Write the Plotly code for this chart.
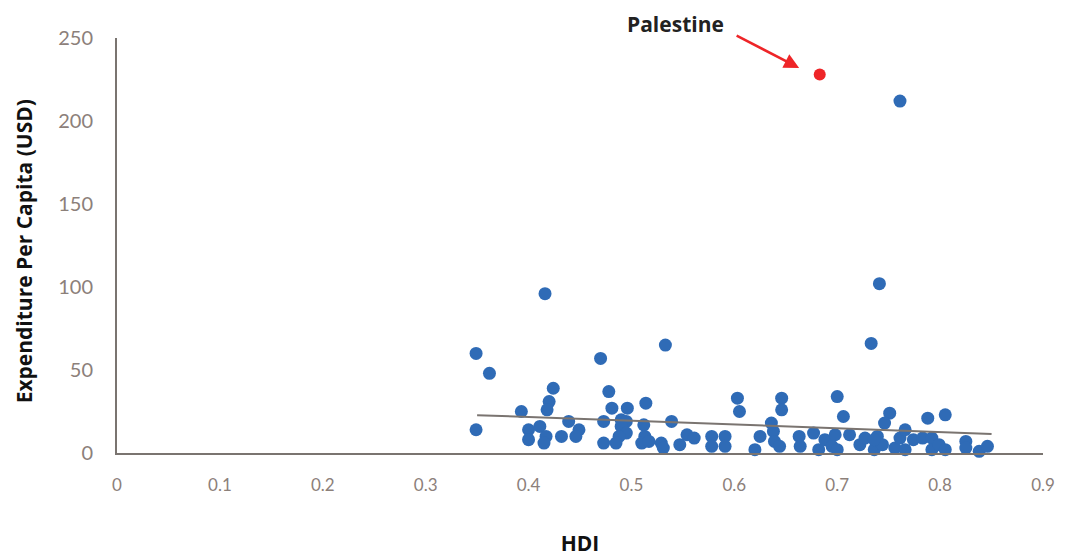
import plotly.graph_objects as go

# HDI and expenditure per capita (USD) for each country (blue points)
hdi = [
    0.761, 0.741, 0.416, 0.733, 0.533, 0.349, 0.470, 0.362,
    0.424, 0.420, 0.418, 0.393, 0.400, 0.400, 0.411, 0.417, 0.415, 0.432, 0.439, 0.449, 0.446,
    0.349, 0.478, 0.481, 0.496, 0.514, 0.473, 0.490, 0.495, 0.490, 0.495, 0.488, 0.473, 0.485,
    0.512, 0.513, 0.510, 0.517, 0.529, 0.531, 0.539, 0.547, 0.554,
    0.603, 0.605, 0.646, 0.646, 0.700, 0.706, 0.751, 0.746, 0.788, 0.805, 0.636, 0.638,
    0.561, 0.578, 0.578, 0.591, 0.591, 0.620, 0.625, 0.639, 0.644, 0.663, 0.664, 0.677,
    0.682, 0.688, 0.695, 0.698, 0.700, 0.712, 0.722, 0.727, 0.736, 0.739, 0.744, 0.736,
    0.756, 0.761, 0.766, 0.766, 0.774, 0.783, 0.792, 0.792, 0.799, 0.805, 0.825, 0.825,
    0.838, 0.846,
]
expenditure = [
    212, 102, 96, 66, 65, 60, 57, 48,
    39, 31, 26, 25, 14, 8, 16, 10, 6, 10, 19, 14, 10,
    14, 37, 27, 27, 30, 19, 20, 19, 16, 12, 10, 6, 6,
    17, 10, 6, 7, 6, 3, 19, 5, 11,
    33, 25, 33, 26, 34, 22, 24, 18, 21, 23, 18, 13,
    9, 10, 4, 10, 4, 2, 10, 7, 4, 10, 4, 12,
    2, 8, 4, 11, 2, 11, 5, 9, 2, 10, 5, 8,
    3, 9, 14, 2, 8, 9, 9, 2, 5, 2, 7, 3,
    1, 4,
]

# Highlighted point
palestine_hdi = [0.683]
palestine_exp = [228]

# Linear trend line endpoints
trend_x = [0.35, 0.85]
trend_y = [22.8, 11.5]

x_ticks = [0, 0.1, 0.2, 0.3, 0.4, 0.5, 0.6, 0.7, 0.8, 0.9]
x_tick_text = ["0", "0.1", "0.2", "0.3", "0.4", "0.5", "0.6", "0.7", "0.8", "0.9"]
y_ticks = [0, 50, 100, 150, 200, 250]

fig = go.Figure()
fig.add_trace(go.Scatter(
    x=hdi, y=expenditure, mode="markers",
    marker=dict(size=13, color="#2f6bb6"), showlegend=False, cliponaxis=False,
))
fig.add_trace(go.Scatter(
    x=trend_x, y=trend_y, mode="lines",
    line=dict(color="#7a7470", width=2), showlegend=False,
))
fig.add_trace(go.Scatter(
    x=palestine_hdi, y=palestine_exp, mode="markers",
    marker=dict(size=12, color="#ee2528"), showlegend=False, cliponaxis=False,
))

# Arrow pointing at Palestine
fig.add_annotation(
    x=0.663, y=232, xref="x", yref="y", text="",
    showarrow=True, ax=-64, ay=-33, axref="pixel", ayref="pixel",
    arrowhead=2, arrowsize=1.2, arrowwidth=2.5, arrowcolor="#ee2528",
)
fig.add_annotation(
    x=0.6026, y=1.07, xref="paper", yref="paper", text="<b>Palestine</b>",
    showarrow=False, xanchor="center", yanchor="top", borderpad=0,
    font=dict(family="Open Sans", size=21, color="#222222"),
)
# Y-axis title
fig.add_annotation(
    x=-0.1172, y=0.487, xref="paper", yref="paper",
    text="<b>Expenditure Per Capita (USD)</b>", textangle=-90,
    showarrow=False, xanchor="left", yanchor="middle", borderpad=0,
    font=dict(family="Open Sans", size=21, color="#111111"),
)

tick_font = dict(family="Lato", color="#8c807a")

fig.update_layout(
    width=1068, height=558,
    margin=dict(l=109, r=33, t=30, b=113),
    paper_bgcolor="white", plot_bgcolor="white",
    xaxis=dict(
        range=[0, 0.9], tickvals=x_ticks, ticktext=x_tick_text,
        showgrid=False, zeroline=False, showline=True, linecolor="#7a7470", linewidth=2,
        ticks="", ticklabelstandoff=16, tickfont=dict(size=17, **tick_font),
        title=dict(text="<b>HDI</b>", standoff=42,
                   font=dict(family="Open Sans", size=21, color="#111111")),
        automargin=False,
    ),
    yaxis=dict(
        range=[0, 250], tickvals=y_ticks,
        showgrid=False, zeroline=False, showline=True, linecolor="#7a7470", linewidth=2,
        ticks="", ticklabelstandoff=18, tickfont=dict(size=20, **tick_font),
        automargin=False,
    ),
)

fig.write_html("out.html")
